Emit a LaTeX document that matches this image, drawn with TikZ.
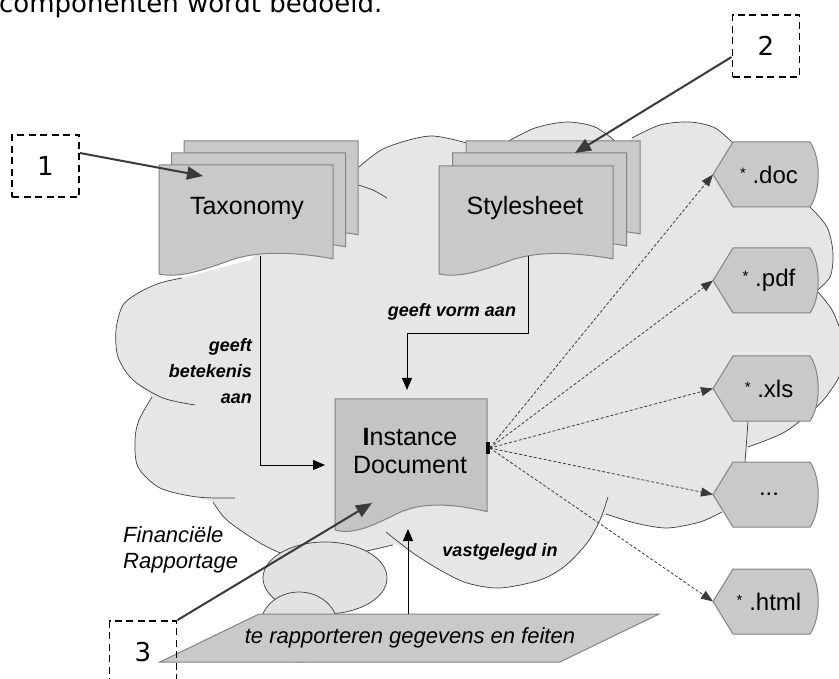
\documentclass[tikz,border=0pt]{standalone}
\usepackage{fontspec}
\setmainfont{Liberation Sans}
\newfontfamily\verdanafont{DejaVu Sans}
\usetikzlibrary{arrows.meta}

\definecolor{cloudgray}{HTML}{E6E6E6}
\definecolor{bubblegray}{HTML}{E2E2E2}
\definecolor{sheetgray}{HTML}{C9C9C9}
\definecolor{instgray}{HTML}{C4C4C4}
\definecolor{sheetline}{HTML}{838383}
\definecolor{cloudink}{HTML}{3C3C3C}
\definecolor{inkgray}{HTML}{3A3A3A}

% one sheet with a wavy lower edge: style, left, top, width, height
\newcommand{\pagesheet}[5]{%
  \begin{scope}[shift={(#2,#3)}, xscale=#4, yscale=#5]
    \path[#1] (0,0) -- (1,0) -- (1,0.86)
      .. controls (0.75,0.79) and (0.55,0.79) .. (0.4,0.88)
      .. controls (0.25,0.965) and (0.12,1.04) .. (0,1) -- cycle;
  \end{scope}}

% output format box: top y, name, label
\newcommand{\outbox}[3]{%
  \path[docbox] (713,#1+32.5) -- (733,#1) -- (810,#1)
    .. controls (821,#1+16) and (821,#1+49) .. (810,#1+65)
    -- (733,#1+65) -- cycle;
  \node[doclabel] (#2) at (769,#1+32.5) {#3};
  \coordinate (#2tip) at (713,#1+32.5);}

\newcommand{\wildcard}{\raisebox{5pt}{\fontsize{15}{15}\selectfont *}}

\begin{document}
\begin{tikzpicture}[x=1pt,y=-1pt,
  cloudline/.style={draw=cloudink, line width=0.7pt},
  sheet/.style={fill=sheetgray, draw=sheetline, line width=1pt},
  instsheet/.style={fill=instgray, draw=sheetline, line width=1pt},
  docbox/.style={fill=sheetgray, draw=sheetline, line width=1pt},
  doclabel/.style={font=\fontsize{24}{28}\selectfont, inner sep=0},
  sheetlabel/.style={font=\fontsize{25}{28}\selectfont, inner sep=0, align=center},
  thinarrow/.style={draw=black, line width=0.9pt, -{Triangle[length=12pt,width=10pt]}},
  dotarrow/.style={draw=inkgray, line width=0.8pt, dash pattern=on 3pt off 2pt,
    -{Triangle[length=12pt,width=9pt]}},
  heavyarrow/.style={draw=inkgray, line width=2pt, -{Triangle[length=16pt,width=13pt]}},
  numbox/.style={draw=black, dash pattern=on 7pt off 4.5pt, line width=1.8pt,
    minimum width=67pt, minimum height=62pt, inner sep=0,
    font=\verdanafont\fontsize{26}{30}\selectfont},
  lblbold/.style={font=\bfseries\itshape\fontsize{18}{26}\selectfont, inner sep=0},
  lblital/.style={font=\itshape\fontsize{22}{26}\selectfont, inner sep=0}]
\useasboundingbox (0,0) rectangle (839,679);

% connection points on the sheets
\coordinate (taxfoot) at (260,256);
\coordinate (taxcue) at (203,176);
\coordinate (stylefoot) at (528,256);
\coordinate (stylebend) at (528,333);
\coordinate (stylecue) at (575,153);
\coordinate (instleft) at (325,465);
\coordinate (insttop) at (407,390);
\coordinate (instbottom) at (408,529);
\coordinate (instcue) at (372,503);

% the reporting cloud
\fill[cloudgray]
  plot[smooth] coordinates {(359,167) (385,148) (430,136) (470,144)}
  -- (490,150)
  -- plot[smooth] coordinates {(505,143) (535,128) (567,122) (595,127) (615,141)}
  -- (625,148)
  -- plot[smooth] coordinates {(632,138) (660,125) (690,122) (715,128) (735,145)}
  -- (780,180)
  -- plot[smooth] coordinates {(810,207) (827,227) (833,253) (830,277) (815,292)}
  -- plot[smooth] coordinates {(818,292) (832,310) (842,335) (845,355) (839,377) (825,398) (810,413) (783,433) (748,447)}
  -- (745,462) -- (730,500)
  -- plot[smooth] coordinates {(722,512) (700,522) (667,528) (635,523) (606,514)}
  -- plot[smooth] coordinates {(600,520) (587,543) (565,566) (540,580) (500,588) (467,583) (440,570) (413,553) (395,544)}
  -- (368,552) -- (300,556)
  -- plot[smooth] coordinates {(283,554) (260,543) (233,525) (222,515) (213,502)}
  -- plot[smooth] coordinates {(197,497) (160,488) (138,467) (135,440) (139,420) (152,397)}
  -- plot[smooth] coordinates {(133,380) (118,357) (116,330) (123,305) (140,292) (160,283) (182,278)}
  -- (250,260) -- cycle;

% cloud outlines
\draw[cloudline] plot[smooth] coordinates {(359,167) (385,148) (430,136) (470,144)};
\draw[cloudline] plot[smooth] coordinates {(358,185) (373,190) (387,198)};
\draw[cloudline] plot[smooth] coordinates {(505,143) (535,128) (567,122) (595,127) (615,141)};
\draw[cloudline] plot[smooth] coordinates {(632,138) (660,125) (690,122) (715,128) (735,145)};
\draw[cloudline] plot[smooth] coordinates {(810,207) (827,227) (833,253) (830,277) (815,292)};
\draw[cloudline] plot[smooth] coordinates {(818,292) (832,310) (842,335) (845,355) (839,377) (825,398) (810,413) (783,433) (748,447)};
\draw[cloudline] (748,421) .. controls (747,435) and (746,450) .. (745,462);
\draw[cloudline] plot[smooth] coordinates {(722,512) (700,522) (667,528) (635,523) (606,514)};
\draw[cloudline] plot[smooth] coordinates {(608,497) (600,520) (587,543) (565,566) (540,580) (500,588) (467,583) (440,570) (413,553) (386,532)};
\draw[cloudline] (340,557) -- (393,545);
\draw[cloudline] plot[smooth] coordinates {(213,502) (222,515) (233,525) (260,543) (283,554) (300,556)};
\draw[cloudline] plot[smooth] coordinates {(152,397) (139,420) (135,440) (138,467) (160,488) (197,497) (235,498)};
\draw[cloudline] plot[smooth] coordinates {(182,278) (160,283) (140,292) (123,305) (116,330) (118,357) (133,380) (163,398) (195,405)};

% thought bubbles
\draw[cloudline, fill=bubblegray] (325,578) ellipse [x radius=62, y radius=36];
\draw[cloudline, fill=bubblegray] (299,627) ellipse [x radius=39, y radius=35];

% input data
\path[fill=sheetgray, draw=sheetline, line width=1pt] (160,662) -- (259,614) -- (659,614) -- (560,662) -- cycle;
\node[lblital] (data) at (410,638) {te rapporteren gegevens en feiten};
\coordinate (datatop) at (408,614);

% thin connectors
\draw[thinarrow] (taxfoot) |- (instleft);
\draw[thinarrow] (stylefoot) -- (stylebend) -| (insttop);
\draw[thinarrow] (datatop) -- (instbottom);

% taxonomy stack
\pagesheet{sheet}{184}{141}{174}{109}
\pagesheet{sheet}{171.5}{153}{174}{109}
\pagesheet{sheet}{159}{165}{174}{109}
\node[sheetlabel] (tax) at (247,208) {Taxonomy};

% stylesheet stack
\pagesheet{sheet}{466}{141}{174}{108}
\pagesheet{sheet}{452.5}{153}{174}{108}
\pagesheet{sheet}{439}{166}{174}{108}
\node[sheetlabel] (style) at (525,208) {Stylesheet};

% instance document
\pagesheet{instsheet}{335}{399}{152}{131}
\node[sheetlabel] (inst) at (410,451) {\textbf{I}nstance\\Document};
\node[fill=black, minimum width=4pt, minimum height=12pt, inner sep=0] (hub) at (487.5,448) {};

% output formats
\outbox{142}{doc}{\wildcard~.doc}
\outbox{248}{pdf}{\wildcard~.pdf}
\outbox{356}{xls}{\wildcard~.xls}
\outbox{462}{more}{...}
\outbox{569}{html}{\wildcard~.html}

\draw[dotarrow] (hub.east) -- (doctip);
\draw[dotarrow] (hub.east) -- (pdftip);
\draw[dotarrow] (hub.east) -- (xlstip);
\draw[dotarrow] (hub.east) -- (moretip);
\draw[dotarrow] (hub.east) -- (htmltip);

% relation labels
\node[lblbold] (vorm) at (452,312) {geeft vorm aan};
\node[lblbold, align=right, anchor=east] (betek) at (252,371) {geeft\\betekenis\\aan};
\node[lblbold] (vast) at (500,552) {vastgelegd in};
\node[lblital, align=left, anchor=west] (fin) at (123,550) {Financiële\\Rapportage};

% numbered callouts
\node[numbox] (b1) at (45.5,166) {1};
\node[numbox] (b2) at (766,46) {2};
\node[numbox] (b3) at (143,652) {3};
\draw[heavyarrow] ([yshift=13pt]b1.east) -- (taxcue);
\draw[heavyarrow] ([yshift=-11pt]b2.west) -- (stylecue);
\draw[heavyarrow] (b3.north east) -- (instcue);

% running text above the figure
\node[anchor=base west, inner sep=0, font=\verdanafont\fontsize{26}{30}\selectfont] (intro) at (-1,13) {componenten wordt bedoeld.};
\end{tikzpicture}
\end{document}
